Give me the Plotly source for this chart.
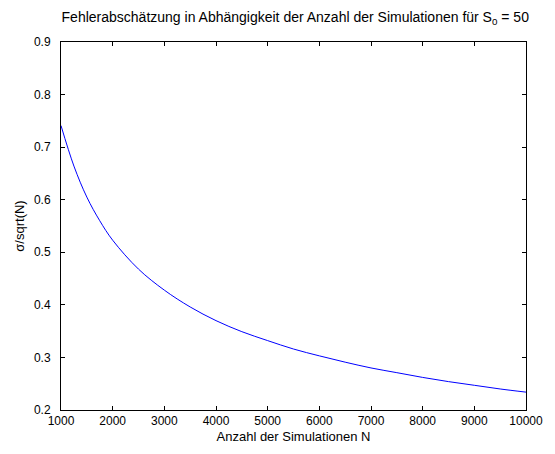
import plotly.graph_objects as go

N = [1000, 1250, 1500, 1750, 2000, 2500, 3000, 3500, 4000, 4500, 5000, 5500,
     6000, 6500, 7000, 7500, 8000, 8500, 9000, 9500, 10000]
err = [0.741, 0.664, 0.605, 0.560, 0.523, 0.468, 0.428, 0.396, 0.370, 0.349,
       0.332, 0.316, 0.303, 0.291, 0.280, 0.271, 0.262, 0.254, 0.247, 0.240, 0.234]

x_ticks = [1000, 2000, 3000, 4000, 5000, 6000, 7000, 8000, 9000, 10000]
y_ticks = [0.2, 0.3, 0.4, 0.5, 0.6, 0.7, 0.8, 0.9]

font = "Liberation Sans, Arial, sans-serif"

fig = go.Figure()
fig.add_trace(go.Scatter(x=N, y=err, mode="lines", line=dict(color="#0000ff", width=1, shape="spline"),
                         showlegend=False))

axis_common = dict(showgrid=False, zeroline=False, showline=True, linecolor="black", linewidth=1,
                   mirror="ticks", ticks="inside", ticklen=4, tickcolor="black",
                   tickfont=dict(family=font, size=12, color="black"))

fig.update_layout(
    width=555, height=454,
    margin=dict(l=61, r=19, t=42, b=42),
    paper_bgcolor="white", plot_bgcolor="white",
    title=dict(text="Fehlerabschätzung in Abhängigkeit der Anzahl der Simulationen für S<sub>0</sub> = 50",
               x=0.532, xanchor="center", y=0.962, yanchor="middle",
               font=dict(family=font, size=14, color="black")),
    xaxis=dict(range=[1000, 10000], tickvals=x_ticks, ticktext=[str(v) for v in x_ticks],
               title=dict(text="Anzahl der Simulationen N", standoff=4,
                          font=dict(family=font, size=13, color="black")),
               **axis_common),
    yaxis=dict(range=[0.2, 0.9], tickvals=y_ticks, ticktext=[f"{v:.1f}" for v in y_ticks],
               ticklabelstandoff=7,
               title=dict(text="σ/sqrt(N)", standoff=6,
                          font=dict(family=font, size=13, color="black")),
               **axis_common),
)

fig.write_html("out.html")
